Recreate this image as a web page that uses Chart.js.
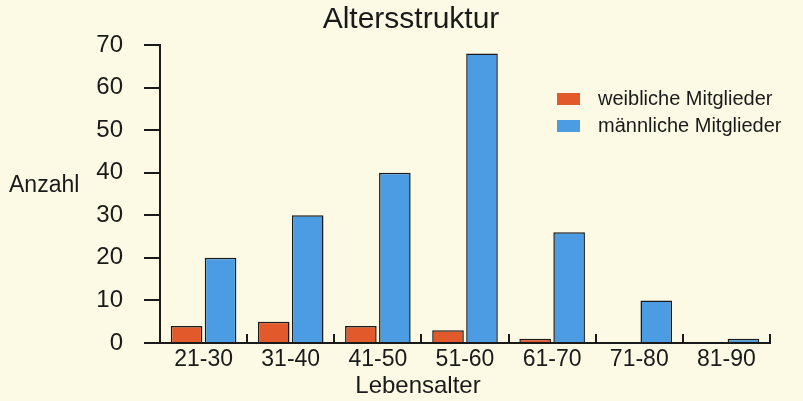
<!DOCTYPE html>
<html>
<head>
<meta charset="utf-8">
<script src="https://cdn.jsdelivr.net/npm/chart.js@4"></script>
<style>
  body { margin: 0; background: #fcf9e4; }
  #wrap { width: 803px; height: 401px; }
</style>
</head>
<body>
<div id="wrap"><canvas id="ageChart"></canvas></div>
<script>
var ageGroups = ['21-30', '31-40', '41-50', '51-60', '61-70', '71-80', '81-90'];
var femaleCounts = [4, 5, 4, 3, 1, 0, 0];
var maleCounts = [20, 30, 40, 68, 26, 10, 1];
var yTicks = [0, 10, 20, 30, 40, 50, 60, 70];

var font = 'Liberation Sans, Arial, sans-serif';

// titles and legend drawn by hand, the reference has them in odd places
var extraText = {
  id: 'extraText',
  afterDraw: function (chart) {
    var ctx = chart.ctx;
    ctx.save();
    ctx.fillStyle = '#1a1a1a';
    ctx.textBaseline = 'middle';

    ctx.font = '30px ' + font;
    ctx.textAlign = 'center';
    ctx.fillText('Altersstruktur', 411, 20);

    ctx.font = '24px ' + font;
    ctx.fillText('Lebensalter', 418, 386);

    ctx.font = '23px ' + font;
    ctx.textAlign = 'left';
    ctx.fillText('Anzahl', 9, 186);

    // legend
    ctx.font = '20px ' + font;
    chart.data.datasets.forEach(function (ds, i) {
      var y = 99 + i * 27;
      ctx.fillStyle = ds.backgroundColor;
      ctx.fillRect(557, y - 6, 23, 12);
      ctx.fillStyle = '#1a1a1a';
      ctx.fillText(ds.label, 598, y);
    });
    ctx.restore();
  }
};

var chart = new Chart(document.getElementById('ageChart'), {
  type: 'bar',
  data: {
    labels: ageGroups,
    datasets: [{
      label: 'weibliche Mitglieder',
      data: femaleCounts,
      backgroundColor: '#e25a2c',
      borderColor: '#1a1a1a',
      borderWidth: 1.5,
      borderSkipped: 'bottom'
    }, {
      label: 'männliche Mitglieder',
      data: maleCounts,
      backgroundColor: '#4b9ce2',
      borderColor: '#1a1a1a',
      borderWidth: 1.5,
      borderSkipped: 'bottom'
    }]
  },
  options: {
    responsive: true,
    maintainAspectRatio: false,
    animation: false,
    layout: { padding: { top: 45, right: 33, left: 0, bottom: 0 } },
    plugins: {
      legend: { display: false },
      title: { display: false },
      tooltip: { enabled: false }
    },
    datasets: {
      bar: { categoryPercentage: 0.78, barPercentage: 0.93 }
    },
    scales: {
      x: {
        grid: {
          offset: true,
          drawOnChartArea: false,
          tickLength: -9,
          color: '#1a1a1a',
          lineWidth: 2
        },
        border: { color: '#1a1a1a', width: 2 },
        ticks: {
          color: '#1a1a1a',
          font: { family: font, size: 23 },
          padding: 12
        },
        afterFit: function (scale) { scale.height = 58; }
      },
      y: {
        min: 0,
        max: 70,
        afterBuildTicks: function (scale) {
          scale.ticks = yTicks.map(function (v) { return { value: v }; });
        },
        grid: {
          drawOnChartArea: false,
          tickLength: 16,
          color: '#1a1a1a',
          lineWidth: 2
        },
        border: { color: '#1a1a1a', width: 2 },
        ticks: {
          color: '#1a1a1a',
          font: { family: font, size: 24 },
          padding: 21
        },
        afterFit: function (scale) { scale.width = 160; }
      }
    }
  },
  plugins: [extraText]
});
</script>
</body>
</html>
